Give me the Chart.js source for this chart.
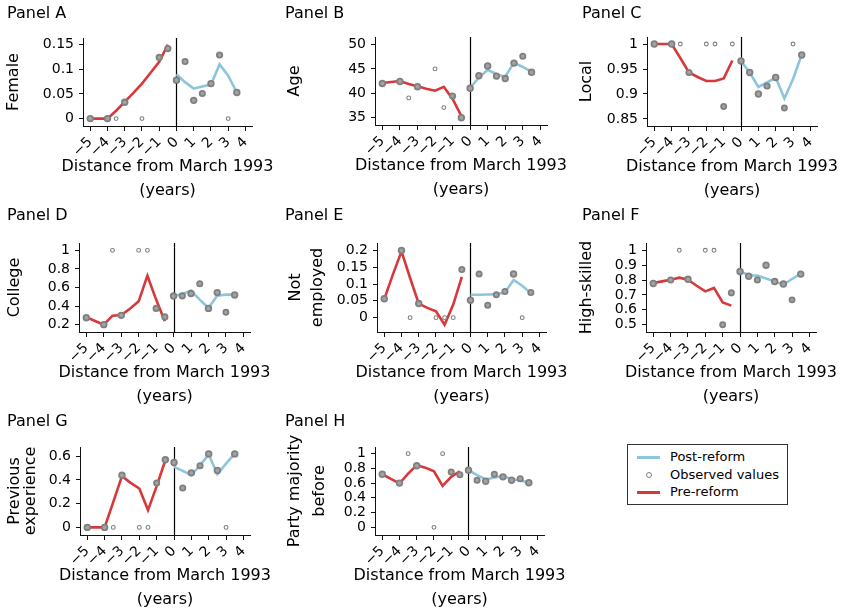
<!DOCTYPE html>
<html>
<head>
<meta charset="utf-8">
<script src="https://cdn.jsdelivr.net/npm/chart.js@4.4.1/dist/chart.umd.min.js"></script>
<style>
  body { margin: 0; background: #fff; }
  #page { position: relative; width: 842px; height: 612px; overflow: hidden; font-family: "DejaVu Sans", sans-serif; }
  #page canvas { position: absolute; }
  #legend { position: absolute; left: 627px; top: 444px; width: 159px; height: 59px; border: 1px solid #333; font-size: 13px; color: #000; }
  #legend .row { position: absolute; left: 0; height: 16px; line-height: 16px; }
  #legend .swatch { position: absolute; left: 9px; width: 23px; top: 7px; height: 3px; }
  #legend .dot { position: absolute; left: 18px; top: 5px; width: 4px; height: 4px; border: 1px solid #888; border-radius: 50%; }
  #legend .label { position: absolute; left: 42px; white-space: nowrap; }
</style>
</head>
<body>
<div id="page"></div>
<script>
// time axis: half-year steps, 0 = March 1993
const preYears = [-5, -4.5, -4, -3.5, -3, -2.5, -2, -1.5, -1, -0.5];
const postYears = [0, 0.5, 1, 1.5, 2, 2.5, 3, 3.5];
const obsYears = [-5, -4, -3.5, -3, -2, -1.5, -1, -0.5, 0, 0.5, 1, 1.5, 2, 2.5, 3, 3.5];
const femaleObsYears = [-5, -4, -3.5, -3, -2, -1, -0.5, 0, 0.5, 1, 1.5, 2, 2.5, 3, 3.5];
const xTicks = [-5, -4, -3, -2, -1, 0, 1, 2, 3, 4];
const reformAt = 0;

// Panel A - Female
const femalePre = [0, 0, 0, 0.016, 0.034, 0.052, 0.071, 0.093, 0.115, 0.15];
const femalePost = [0.09, 0.074, 0.061, 0.065, 0.069, 0.11, 0.087, 0.053];
const femaleObs = [0, 0, 0, 0.033, 0, 0.124, 0.142, 0.078, 0.116, 0.037, 0.051, 0.071, 0.129, 0, 0.053];
const femaleN = [6, 6, 1, 6, 1, 4, 4, 6, 3, 6, 3, 6, 4, 1, 6];
const femaleTicks = [0, 0.05, 0.1, 0.15];
const femaleRange = [-0.015, 0.1635];

// Panel B - Age
const agePre = [42.1, 42.3, 42.5, 41.9, 41.4, 40.9, 40.5, 41.3, 38.8, 35.3];
const agePost = [41.1, 43.2, 44.8, 43.9, 43.4, 46.3, 45.4, 44.4];
const ageObs = [42.0, 42.4, 39.0, 41.3, 45.0, 37.0, 39.4, 34.9, 41.0, 43.6, 45.6, 43.5, 43.0, 46.2, 47.6, 44.3];
const ageN = [6, 6, 1, 6, 1, 1, 3, 6, 6, 6, 6, 4, 6, 6, 3, 6];
const ageTicks = [35, 40, 45, 50];
const ageRange = [33.4, 51.6];

// Panel C - Local
const localPre = [1, 1, 1, 0.972, 0.943, 0.934, 0.926, 0.926, 0.931, 0.967];
const localPost = [0.966, 0.943, 0.914, 0.923, 0.933, 0.891, 0.93, 0.979];
const localObs = [1, 1, 1, 0.943, 1, 1, 0.875, 1, 0.966, 0.943, 0.9, 0.916, 0.933, 0.872, 1, 0.978];
const localN = [6, 6, 1, 4, 1, 1, 2, 1, 6, 6, 6, 4, 6, 2, 1, 6];
const localTicks = [0.85, 0.9, 0.95, 1];
const localRange = [0.836, 1.014];

// Panel D - College
const collegePre = [0.279, 0.24, 0.2, 0.297, 0.304, 0.372, 0.451, 0.727, 0.47, 0.236];
const collegePost = [0.505, 0.53, 0.566, 0.469, 0.379, 0.512, 0.523, 0.523];
const collegeObs = [0.275, 0.2, 1, 0.3, 1, 1, 0.375, 0.283, 0.508, 0.51, 0.535, 0.64, 0.375, 0.545, 0.333, 0.52];
const collegeN = [6, 6, 1, 6, 1, 1, 3, 4, 6, 4, 6, 3, 6, 6, 2, 6];
const collegeTicks = [0.2, 0.4, 0.6, 0.8, 1];
const collegeRange = [0.121, 1.079];

// Panel E - Not employed
const notEmpPre = [0.055, 0.128, 0.197, 0.118, 0.042, 0.029, 0.019, -0.021, 0.039, 0.121];
const notEmpPost = [0.068, 0.068, 0.069, 0.07, 0.075, 0.112, 0.095, 0.073];
const notEmpObs = [0.056, 0.2, 0, 0.042, 0, 0, 0, 0.143, 0.052, 0.13, 0.037, 0.068, 0.078, 0.13, 0, 0.075];
const notEmpN = [6, 6, 1, 6, 1, 1, 1, 3, 6, 3, 3, 3, 3, 6, 1, 3];
const notEmpTicks = [0, 0.05, 0.1, 0.15, 0.2];
const notEmpRange = [-0.0426, 0.222];

// Panel F - High-skilled
const skilledPre = [0.78, 0.791, 0.802, 0.816, 0.802, 0.762, 0.724, 0.747, 0.65, 0.628];
const skilledPost = [0.859, 0.832, 0.83, 0.81, 0.791, 0.769, 0.807, 0.843];
const skilledObs = [0.777, 0.8, 1, 0.805, 1, 1, 0.5, 0.714, 0.857, 0.826, 0.8, 0.9, 0.79, 0.773, 0.667, 0.84];
const skilledN = [6, 3, 1, 6, 1, 1, 2, 3, 6, 6, 3, 6, 6, 6, 2, 6];
const skilledTicks = [0.5, 0.6, 0.7, 0.8, 0.9, 1];
const skilledRange = [0.451, 1.049];

// Panel G - Previous experience
const experPre = [0, 0, 0, 0.216, 0.432, 0.376, 0.328, 0.146, 0.348, 0.566];
const experPost = [0.51, 0.477, 0.44, 0.524, 0.614, 0.449, 0.538, 0.622];
const experObs = [0, 0, 0, 0.44, 0, 0, 0.375, 0.57, 0.547, 0.333, 0.46, 0.52, 0.62, 0.48, 0, 0.62];
const experN = [6, 6, 1, 6, 1, 1, 3, 6, 6, 3, 6, 3, 6, 6, 1, 6];
const experTicks = [0, 0.2, 0.4, 0.6];
const experRange = [-0.064, 0.678];

// Panel H - Party majority before
const majorityPre = [0.72, 0.658, 0.595, 0.73, 0.842, 0.81, 0.761, 0.563, 0.685, 0.761];
const majorityPost = [0.775, 0.707, 0.649, 0.676, 0.698, 0.653, 0.64, 0.604];
const majorityObs = [0.72, 0.6, 1, 0.835, 0, 1, 0.75, 0.714, 0.775, 0.64, 0.625, 0.72, 0.685, 0.64, 0.66, 0.605];
const majorityN = [6, 6, 1, 6, 1, 1, 3, 3, 6, 3, 6, 3, 6, 6, 3, 6];
const majorityTicks = [0, 0.2, 0.4, 0.6, 0.8, 1];
const majorityRange = [-0.104, 1.09];

const xRange = [-5.42, 4.38];
const xTitle = ['Distance from March 1993', '(years)'];

const colors = {
  pre: '#d7383a',
  post: '#8cc5dc',
  dot: '#808080',
  dotFill: '#a3a3a3',
  axis: '#111'
};
const FONT = '"DejaVu Sans", sans-serif';
const Y_AXIS_W = 40;
const X_AXIS_H = 40;

// page cells [x, y, w, h] and plot rectangles [left, top, right, bottom]
const panels = [
  { title: 'Panel A', yTitle: ['Female'], pre: femalePre, post: femalePost, obsX: femaleObsYears, obsY: femaleObs, obsN: femaleN,
    ticks: femaleTicks, range: femaleRange, cell: [0, 0, 278, 203], plot: [83, 38, 252, 126], titlePos: [7, 14], yTitleX: [14] },
  { title: 'Panel B', yTitle: ['Age'], pre: agePre, post: agePost, obsX: obsYears, obsY: ageObs, obsN: ageN,
    ticks: ageTicks, range: ageRange, cell: [278, 0, 290, 203], plot: [375, 37, 547, 125], titlePos: [285, 14], yTitleX: [295] },
  { title: 'Panel C', yTitle: ['Local'], pre: localPre, post: localPost, obsX: obsYears, obsY: localObs, obsN: localN,
    ticks: localTicks, range: localRange, cell: [568, 0, 274, 203], plot: [647, 37, 817, 126], titlePos: [582, 14], yTitleX: [587] },
  { title: 'Panel D', yTitle: ['College'], pre: collegePre, post: collegePost, obsX: obsYears, obsY: collegeObs, obsN: collegeN,
    ticks: collegeTicks, range: collegeRange, cell: [0, 203, 278, 203], plot: [79, 243, 250, 332], titlePos: [7, 216], yTitleX: [15] },
  { title: 'Panel E', yTitle: ['Not', 'employed'], pre: notEmpPre, post: notEmpPost, obsX: obsYears, obsY: notEmpObs, obsN: notEmpN,
    ticks: notEmpTicks, range: notEmpRange, cell: [278, 203, 290, 203], plot: [377, 243, 546, 332], titlePos: [285, 216], yTitleX: [296, 318] },
  { title: 'Panel F', yTitle: ['High-skilled'], pre: skilledPre, post: skilledPost, obsX: obsYears, obsY: skilledObs, obsN: skilledN,
    ticks: skilledTicks, range: skilledRange, cell: [568, 203, 274, 203], plot: [646, 243, 816, 332], titlePos: [582, 216], yTitleX: [587] },
  { title: 'Panel G', yTitle: ['Previous', 'experience'], pre: experPre, post: experPost, obsX: obsYears, obsY: experObs, obsN: experN,
    ticks: experTicks, range: experRange, cell: [0, 406, 278, 206], plot: [80, 447, 250, 535], titlePos: [7, 422], yTitleX: [15, 31] },
  { title: 'Panel H', yTitle: ['Party majority', 'before'], pre: majorityPre, post: majorityPost, obsX: obsYears, obsY: majorityObs, obsN: majorityN,
    ticks: majorityTicks, range: majorityRange, cell: [278, 406, 290, 206], plot: [375, 447, 544, 535], titlePos: [285, 422], yTitleX: [295, 320] }
];

const toPoints = (xs, ys) => xs.map((x, i) => ({ x, y: ys[i] }));
const dotRadius = n => n > 1 ? 2.2 + 0.25 * Math.sqrt(n) : 1.9;
const dotFill = n => n > 1 ? colors.dotFill : '#ffffff';
const dotBorder = n => n > 1 ? 1.8 : 1.1;

// vertical reform line plus panel/axis titles
const panelDecor = {
  id: 'panelDecor',
  beforeDatasetsDraw(chart) {
    const { ctx, chartArea: a, scales } = chart;
    const x = Math.round(scales.x.getPixelForValue(reformAt)) + 0.5;
    ctx.save();
    ctx.strokeStyle = '#000';
    ctx.lineWidth = 1.2;
    ctx.beginPath();
    ctx.moveTo(x, a.top);
    ctx.lineTo(x, a.bottom);
    ctx.stroke();
    ctx.restore();
  },
  afterDraw(chart, args, opts) {
    const { ctx, chartArea: a } = chart;
    ctx.save();
    ctx.fillStyle = '#000';
    ctx.font = '16px ' + FONT;
    ctx.textBaseline = 'middle';

    ctx.textAlign = 'left';
    ctx.fillText(opts.title, opts.titleX, opts.titleY);

    ctx.textAlign = 'center';
    const cx = (a.left + a.right) / 2;
    ctx.fillText(xTitle[0], cx, a.bottom + 41);
    ctx.fillText(xTitle[1], cx, a.bottom + 65);

    const cy = (a.top + a.bottom) / 2;
    opts.yTitle.forEach((t, i) => {
      ctx.save();
      ctx.translate(opts.yTitleX[i], cy);
      ctx.rotate(-Math.PI / 2);
      ctx.fillText(t, 0, 0);
      ctx.restore();
    });
    ctx.restore();
  }
};

const page = document.getElementById('page');

panels.forEach(p => {
  const [cx, cy, cw, ch] = p.cell;
  const [pl, pt, pr, pb] = p.plot;
  const canvas = document.createElement('canvas');
  canvas.width = cw;
  canvas.height = ch;
  canvas.style.left = cx + 'px';
  canvas.style.top = cy + 'px';
  canvas.style.width = cw + 'px';
  canvas.style.height = ch + 'px';
  page.appendChild(canvas);

  new Chart(canvas, {
    type: 'scatter',
    data: {
      datasets: [
        {
          label: 'Observed values',
          data: toPoints(p.obsX, p.obsY),
          pointRadius: p.obsN.map(dotRadius),
          pointBackgroundColor: p.obsN.map(dotFill),
          pointBorderColor: colors.dot,
          pointBorderWidth: p.obsN.map(dotBorder)
        },
        {
          label: 'Post-reform',
          data: toPoints(postYears, p.post),
          showLine: true,
          borderColor: colors.post,
          borderWidth: 2.6,
          pointRadius: 0
        },
        {
          label: 'Pre-reform',
          data: toPoints(preYears, p.pre),
          showLine: true,
          borderColor: colors.pre,
          borderWidth: 2.6,
          pointRadius: 0
        }
      ]
    },
    options: {
      responsive: false,
      animation: false,
      layout: {
        padding: {
          left: pl - cx - Y_AXIS_W,
          top: pt - cy,
          right: cx + cw - pr,
          bottom: cy + ch - pb - X_AXIS_H
        }
      },
      scales: {
        x: {
          type: 'linear',
          min: xRange[0],
          max: xRange[1],
          afterBuildTicks: s => { s.ticks = xTicks.map(v => ({ value: v })); },
          afterFit: s => { s.height = X_AXIS_H; },
          ticks: {
            autoSkip: false,
            minRotation: 45,
            maxRotation: 45,
            padding: 3,
            color: '#000',
            font: { family: FONT, size: 14 },
            callback: v => v < 0 ? '\u2212' + Math.abs(v) : String(v)
          },
          grid: { drawOnChartArea: false, drawTicks: true, tickLength: 5, color: colors.axis },
          border: { display: true, color: colors.axis, width: 1 }
        },
        y: {
          type: 'linear',
          min: p.range[0],
          max: p.range[1],
          afterBuildTicks: s => { s.ticks = p.ticks.map(v => ({ value: v })); },
          afterFit: s => { s.width = Y_AXIS_W; },
          ticks: {
            autoSkip: false,
            padding: 5,
            color: '#000',
            font: { family: FONT, size: 14 },
            callback: v => String(v)
          },
          grid: { drawOnChartArea: false, drawTicks: true, tickLength: 4, color: colors.axis },
          border: { display: true, color: colors.axis, width: 1 }
        }
      },
      plugins: {
        legend: { display: false },
        tooltip: { enabled: false },
        panelDecor: {
          title: p.title,
          titleX: p.titlePos[0] - cx,
          titleY: p.titlePos[1] - cy,
          yTitle: p.yTitle,
          yTitleX: p.yTitleX.map(v => v - cx)
        }
      }
    },
    plugins: [panelDecor]
  });
});

// shared legend
const legendItems = [
  { label: 'Post-reform', kind: 'line', color: colors.post },
  { label: 'Observed values', kind: 'dot', color: colors.dot },
  { label: 'Pre-reform', kind: 'line', color: colors.pre }
];
const legend = document.createElement('div');
legend.id = 'legend';
legendItems.forEach((item, i) => {
  const row = document.createElement('div');
  row.className = 'row';
  row.style.top = (4 + i * 17.5) + 'px';
  row.style.width = '100%';
  const mark = document.createElement('span');
  if (item.kind === 'line') {
    mark.className = 'swatch';
    mark.style.background = item.color;
  } else {
    mark.className = 'dot';
    mark.style.borderColor = item.color;
  }
  const text = document.createElement('span');
  text.className = 'label';
  text.textContent = item.label;
  row.appendChild(mark);
  row.appendChild(text);
  legend.appendChild(row);
});
page.appendChild(legend);
</script>
</body>
</html>
